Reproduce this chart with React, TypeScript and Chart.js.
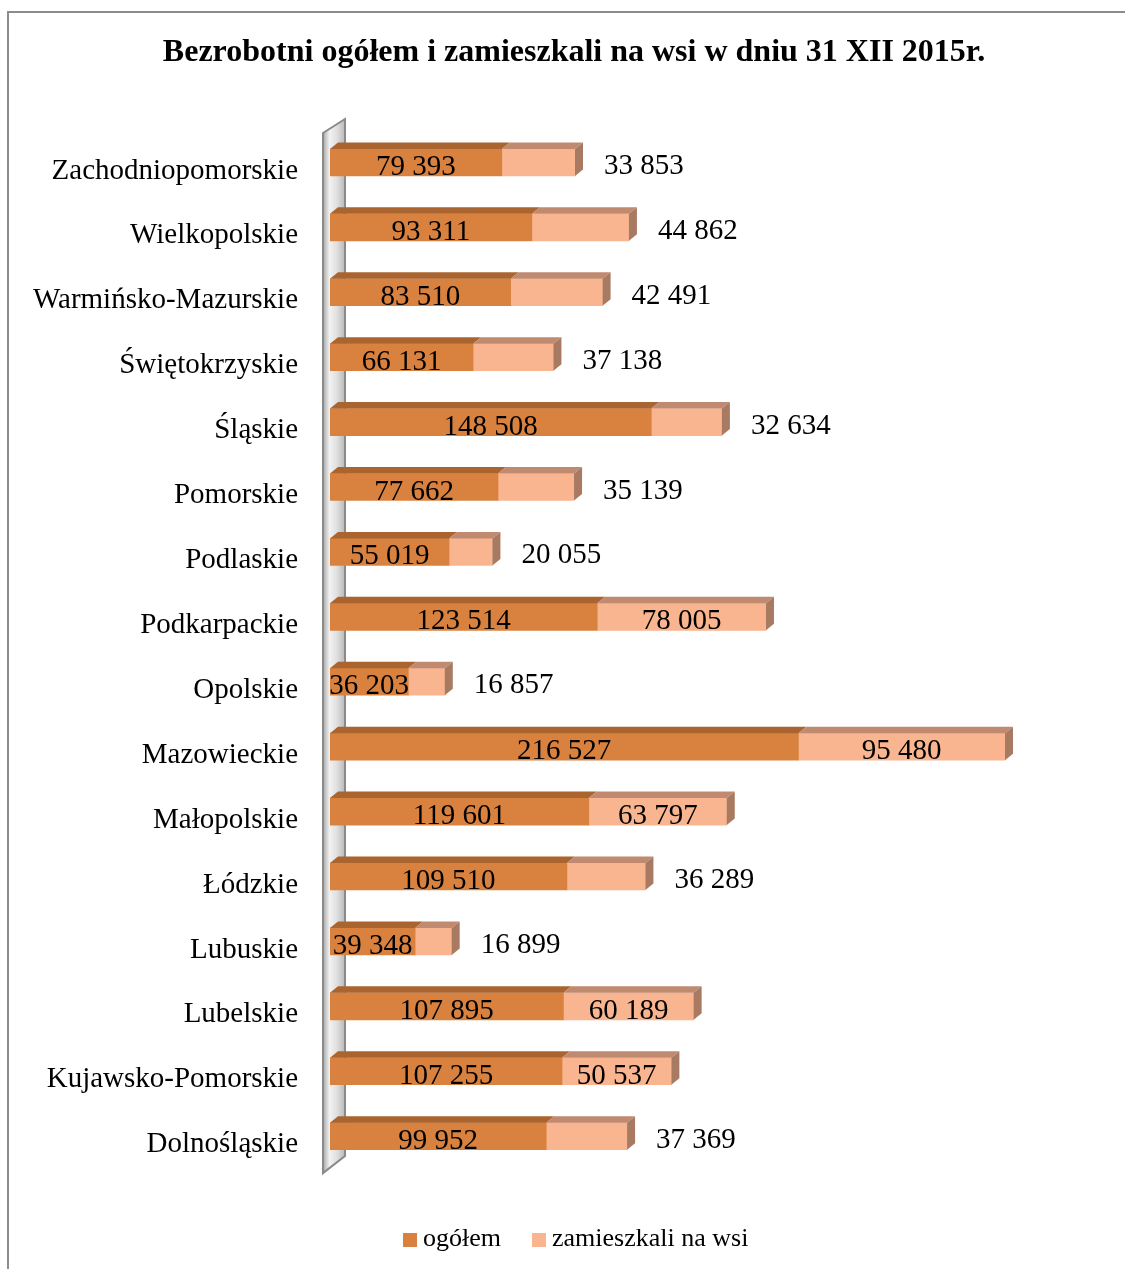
import React, { useEffect, useRef } from "react";
import { Chart, registerables } from "chart.js";

Chart.register(...registerables);

const TITLE = "Bezrobotni ogółem i zamieszkali na wsi w dniu 31 XII 2015r.";
const categories = [
  "Zachodniopomorskie",
  "Wielkopolskie",
  "Warmińsko-Mazurskie",
  "Świętokrzyskie",
  "Śląskie",
  "Pomorskie",
  "Podlaskie",
  "Podkarpackie",
  "Opolskie",
  "Mazowieckie",
  "Małopolskie",
  "Łódzkie",
  "Lubuskie",
  "Lubelskie",
  "Kujawsko-Pomorskie",
  "Dolnośląskie",
];
const ogolem = [79393, 93311, 83510, 66131, 148508, 77662, 55019, 123514, 36203, 216527, 119601, 109510, 39348, 107895, 107255, 99952];
const wsi = [33853, 44862, 42491, 37138, 32634, 35139, 20055, 78005, 16857, 95480, 63797, 36289, 16899, 60189, 50537, 37369];
const seriesNames = ["ogółem", "zamieszkali na wsi"];

const FONT = "'Liberation Serif', 'Times New Roman', serif";
const FRONT = ["#D9823F", "#F9B58F"];
const TOP = ["#A9642F", "#C08A70"];
const SIDE = ["#9A5A2A", "#A87A62"];
const DX = 8;
const DY = 6.5;

const fmt = (v: number) => String(v).replace(/\B(?=(\d{3})+(?!\d))/g, " ");

const decorPlugin = {
  id: "decor",
  beforeDraw(chart: any) {
    const ctx = chart.ctx;
    ctx.save();
    ctx.fillStyle = "#ffffff";
    ctx.fillRect(0, 0, chart.width, chart.height);
    ctx.strokeStyle = "#8c8c8c";
    ctx.lineWidth = 2;
    ctx.strokeRect(8, 12, 1400, 1400);
    // title
    ctx.fillStyle = "#000";
    ctx.font = `bold 32px ${FONT}`;
    ctx.textAlign = "center";
    ctx.textBaseline = "alphabetic";
    ctx.fillText(TITLE, 574, 61);
    // legend
    ctx.font = `26px ${FONT}`;
    ctx.textAlign = "left";
    const items = [
      { x: 403, text: seriesNames[0], color: FRONT[0] },
      { x: 532, text: seriesNames[1], color: FRONT[1] },
    ];
    for (const it of items) {
      ctx.fillStyle = it.color;
      ctx.fillRect(it.x, 1233, 14, 14);
      ctx.fillStyle = "#000";
      ctx.fillText(it.text, it.x + 20, 1246);
    }
    ctx.restore();
  },
  beforeDatasetsDraw(chart: any) {
    const ctx = chart.ctx;
    const a = chart.chartArea;
    const l = a.left;
    ctx.save();
    const g = ctx.createLinearGradient(l - 7, 0, l + 15, 0);
    g.addColorStop(0, "#a8a8a8");
    g.addColorStop(0.3, "#f2f2f2");
    g.addColorStop(0.65, "#dedede");
    g.addColorStop(1, "#b8b8b8");
    ctx.beginPath();
    ctx.moveTo(l - 7, a.top + 3);
    ctx.lineTo(l + 15, a.top - 11);
    ctx.lineTo(l + 15, a.bottom - 12.5);
    ctx.lineTo(l - 7, a.bottom + 4.5);
    ctx.closePath();
    ctx.fillStyle = g;
    ctx.fill();
    ctx.strokeStyle = "#8a8a8a";
    ctx.lineWidth = 2;
    ctx.stroke();
    ctx.restore();
  },
  afterDatasetsDraw(chart: any) {
    const ctx = chart.ctx;
    const m0 = chart.getDatasetMeta(0).data;
    const m1 = chart.getDatasetMeta(1).data;
    ctx.save();
    const poly = (pts: number[][], color: string) => {
      ctx.beginPath();
      ctx.moveTo(pts[0][0], pts[0][1]);
      for (let i = 1; i < pts.length; i++) ctx.lineTo(pts[i][0], pts[i][1]);
      ctx.closePath();
      ctx.fillStyle = color;
      ctx.fill();
    };
    for (let i = 0; i < categories.length; i++) {
      const segs = [m0[i], m1[i]];
      segs.forEach((b: any, k: number) => {
        const x0 = Math.min(b.x, b.base);
        const x1 = Math.max(b.x, b.base);
        const top = b.y - b.height / 2;
        poly(
          [
            [x0, top],
            [x0 + DX, top - DY],
            [x1 + DX, top - DY],
            [x1, top],
          ],
          TOP[k]
        );
      });
      const last: any = m1[i];
      const xe = Math.max(last.x, last.base);
      const t = last.y - last.height / 2;
      const bt = last.y + last.height / 2;
      poly(
        [
          [xe, t],
          [xe + DX, t - DY],
          [xe + DX, bt - DY],
          [xe, bt],
        ],
        SIDE[1]
      );
      // labels
      ctx.font = `29px ${FONT}`;
      ctx.fillStyle = "#000";
      ctx.textBaseline = "alphabetic";
      ctx.textAlign = "center";
      const b0: any = m0[i];
      ctx.fillText(fmt(ogolem[i]), (b0.x + b0.base) / 2, b0.y + 12.5);
      const txt = fmt(wsi[i]);
      const w = ctx.measureText(txt).width;
      const segW = Math.abs(last.x - last.base);
      if (segW > w + 20) {
        ctx.fillText(txt, (last.x + last.base) / 2, last.y + 12.5);
      } else {
        ctx.textAlign = "left";
        ctx.fillText(txt, xe + 29, last.y + 11.5);
      }
    }
    ctx.restore();
  },
};

export default function App() {
  const ref = useRef<HTMLCanvasElement>(null);
  useEffect(() => {
    if (!ref.current) return;
    const chart = new Chart(ref.current, {
      type: "bar",
      data: {
        labels: categories,
        datasets: [
          { label: seriesNames[0], data: ogolem, backgroundColor: FRONT[0], borderWidth: 0, barThickness: 27 },
          { label: seriesNames[1], data: wsi, backgroundColor: FRONT[1], borderWidth: 0, barThickness: 27 },
        ],
      },
      options: {
        indexAxis: "y",
        responsive: false,
        animation: false,
        layout: { padding: { top: 130, bottom: 100.4, left: 0, right: 37.8 } },
        plugins: {
          legend: { display: false },
          title: { display: false },
          tooltip: { enabled: false },
        },
        scales: {
          x: { stacked: true, display: false, min: 0, max: 350000 },
          y: {
            stacked: true,
            grid: { display: false, drawTicks: false },
            border: { display: false },
            ticks: {
              color: "#000",
              font: { family: FONT, size: 29 },
              padding: 32,
              labelOffset: 8.5,
              autoSkip: false,
            },
            afterFit: (scale: any) => {
              scale.width = 330;
            },
          },
        },
      },
      plugins: [decorPlugin],
    } as any);
    return () => chart.destroy();
  }, []);
  return (
    <div style={{ position: "absolute", left: 0, top: 0, width: 1125, height: 1269 }}>
      <canvas ref={ref} width={1125} height={1269} style={{ display: "block" }} />
    </div>
  );
}
